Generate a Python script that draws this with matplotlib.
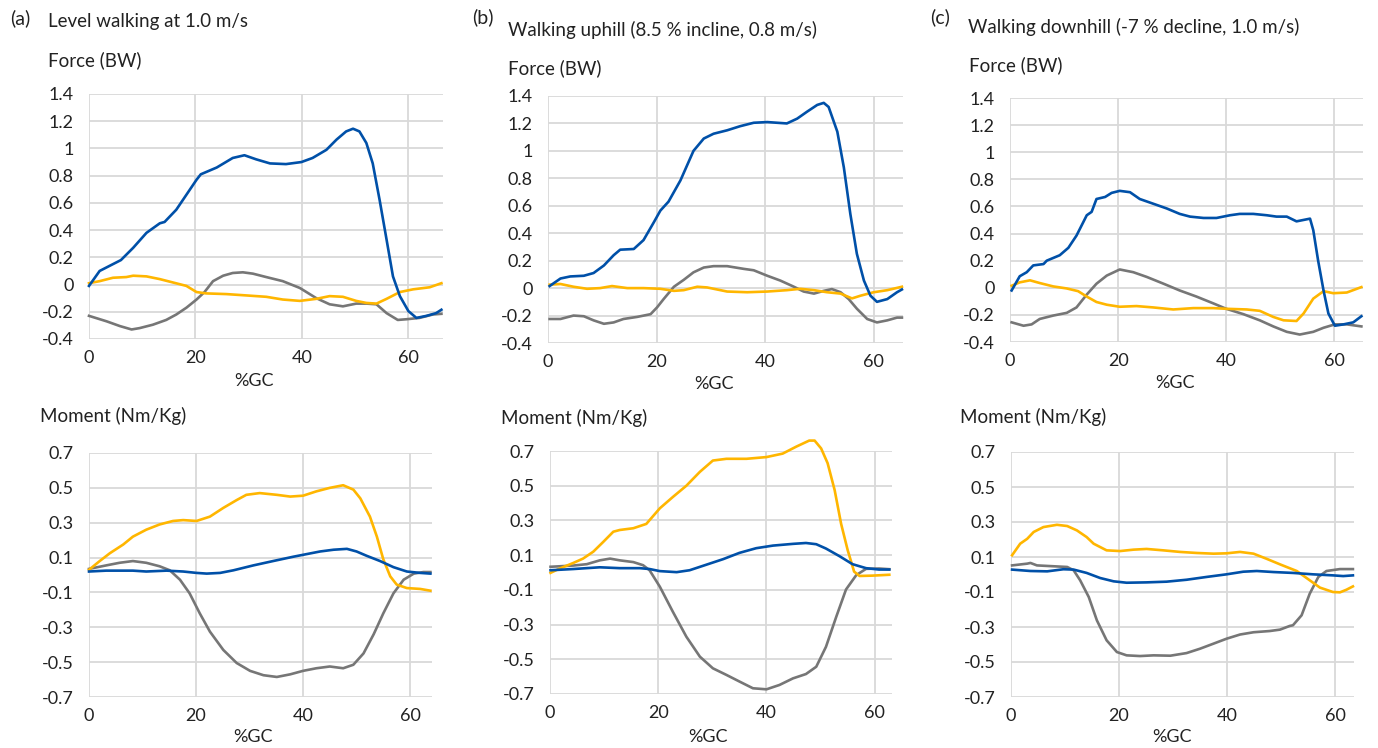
import matplotlib
matplotlib.use('Agg')
import matplotlib.pyplot as plt

plt.rcParams['font.family'] = ['Lato', 'DejaVu Sans']

# ---- data (x = %GC) ----
# (a) level walking, force (BW)
a_f_blue_x = [0, 2, 4.5, 6, 8.3, 10.8, 13.3, 14.2, 16.4, 18.3, 20.2, 21, 24, 27, 29.2, 31.4, 34, 37, 39.9, 42, 44.6, 46.5, 48.3, 49.6, 50.8, 52.1, 53.3, 54.6, 55.9, 57.1, 58.4, 60, 61.5, 63.4, 65.2, 66.2]
a_f_blue_y = [-0.01, 0.1, 0.15, 0.18, 0.27, 0.38, 0.45, 0.46, 0.55, 0.66, 0.77, 0.81, 0.86, 0.93, 0.95, 0.92, 0.89, 0.885, 0.9, 0.93, 0.99, 1.065, 1.125, 1.145, 1.125, 1.04, 0.89, 0.62, 0.33, 0.06, -0.085, -0.195, -0.245, -0.23, -0.21, -0.185]
a_f_orange_x = [0, 2, 4.5, 7, 8.3, 10.8, 13.3, 15.8, 18.3, 20.2, 22, 25.8, 29.6, 33.3, 36.4, 39.6, 42.7, 45.2, 47.7, 50.2, 52.1, 54, 55.9, 58.4, 60.9, 64, 66.2]
a_f_orange_y = [0.01, 0.025, 0.05, 0.055, 0.065, 0.06, 0.04, 0.015, -0.01, -0.055, -0.065, -0.07, -0.08, -0.09, -0.11, -0.12, -0.105, -0.085, -0.09, -0.12, -0.135, -0.14, -0.105, -0.055, -0.035, -0.02, 0.01]
a_f_gray_x = [0, 3.3, 5.8, 8, 9.5, 12, 14.5, 16.4, 18.3, 20.2, 21.7, 23.3, 25.2, 27, 28.9, 30.8, 33.3, 36.4, 39.6, 42.7, 45.2, 47.7, 50.2, 52.1, 54, 55.9, 58, 59.6, 62.1, 64.6, 66.2]
a_f_gray_y = [-0.23, -0.27, -0.305, -0.33, -0.32, -0.295, -0.26, -0.22, -0.17, -0.11, -0.055, 0.025, 0.065, 0.085, 0.09, 0.08, 0.055, 0.025, -0.025, -0.1, -0.145, -0.16, -0.14, -0.14, -0.145, -0.21, -0.26, -0.255, -0.245, -0.22, -0.215]

# (b) uphill, force (BW)
b_f_blue_x = [0.3, 2.3, 4.1, 6.6, 8.4, 10.3, 12.1, 13.3, 15.8, 17.6, 19.5, 20.7, 22.2, 24.4, 26.8, 28.7, 30.5, 33, 35.4, 37.9, 40.4, 42.2, 44, 45.9, 47.7, 49.6, 50.8, 51.7, 53.3, 54.5, 55.7, 56.9, 58.2, 59.4, 60.6, 62.5, 64.3, 65.2]
b_f_blue_y = [0.015, 0.07, 0.085, 0.09, 0.11, 0.165, 0.24, 0.28, 0.285, 0.35, 0.48, 0.565, 0.63, 0.785, 1.0, 1.09, 1.125, 1.15, 1.18, 1.205, 1.21, 1.205, 1.2, 1.235, 1.285, 1.335, 1.35, 1.32, 1.14, 0.88, 0.54, 0.25, 0.055, -0.055, -0.1, -0.08, -0.03, -0.01]
b_f_orange_x = [0.3, 2.3, 4.7, 7.2, 9.6, 11.8, 14.6, 17.6, 20.7, 23.2, 25, 27.5, 29.3, 33, 36.7, 40.4, 44, 46.5, 49, 51.4, 53.9, 56, 57.6, 60, 62.5, 65.2]
b_f_orange_y = [0.025, 0.03, 0.01, -0.005, 0, 0.015, 0, 0, -0.005, -0.02, -0.015, 0.01, 0.005, -0.025, -0.03, -0.025, -0.015, -0.005, -0.015, -0.03, -0.04, -0.075, -0.055, -0.03, -0.015, 0.01]
b_f_gray_x = [0.3, 2.3, 4.7, 6.6, 8.4, 10.3, 12.1, 13.9, 16.4, 18.9, 20.1, 21.3, 23.2, 25, 26.8, 28.7, 30.5, 33, 36.1, 37.9, 40.4, 42.8, 45.3, 47.1, 49, 50.8, 52.3, 53.9, 55.4, 56.9, 58.8, 60.6, 62.5, 64.3, 65.2]
b_f_gray_y = [-0.225, -0.225, -0.2, -0.205, -0.235, -0.26, -0.25, -0.225, -0.21, -0.19, -0.14, -0.08, 0.01, 0.06, 0.115, 0.15, 0.16, 0.16, 0.14, 0.13, 0.09, 0.055, 0.01, -0.025, -0.04, -0.02, -0.007, -0.03, -0.08, -0.15, -0.225, -0.25, -0.235, -0.215, -0.215]

# (c) downhill, force (BW)
c_f_blue_x = [0.3, 1.8, 3.1, 4.3, 6.2, 6.8, 9.2, 10.8, 12.3, 14.2, 15.1, 16, 17.6, 18.8, 20.3, 22.2, 24, 26.5, 29, 31.4, 33.3, 35.8, 38.2, 40.7, 42.5, 45, 47.5, 49.3, 51.2, 53, 55.5, 56.1, 57, 58, 58.9, 60.1, 61.7, 63.5, 65]
c_f_blue_y = [-0.02, 0.085, 0.115, 0.165, 0.175, 0.2, 0.24, 0.295, 0.385, 0.535, 0.56, 0.655, 0.67, 0.7, 0.715, 0.705, 0.655, 0.62, 0.585, 0.545, 0.525, 0.515, 0.515, 0.535, 0.545, 0.545, 0.535, 0.525, 0.525, 0.49, 0.51, 0.425, 0.2, -0.02, -0.19, -0.28, -0.27, -0.255, -0.21]
c_f_orange_x = [0.3, 1.8, 3.7, 5.5, 8, 10.5, 12.6, 14.2, 16, 17.9, 20.3, 23.4, 26.5, 30.2, 33.9, 37.6, 40, 43.8, 46.2, 48.7, 50.6, 53, 54.3, 56.1, 58, 59.8, 62.3, 65]
c_f_orange_y = [0.015, 0.04, 0.055, 0.035, 0.01, -0.005, -0.025, -0.065, -0.105, -0.125, -0.14, -0.135, -0.145, -0.16, -0.15, -0.15, -0.155, -0.16, -0.17, -0.215, -0.24, -0.245, -0.19, -0.08, -0.025, -0.04, -0.035, 0.005]
c_f_gray_x = [0.3, 2.5, 4, 5.5, 8, 10.5, 12.3, 14.2, 16, 17.9, 20.3, 22.8, 25.3, 28.4, 31.4, 34.5, 37.6, 40, 43.2, 46.2, 48.7, 51.2, 53.6, 56.1, 58, 60.1, 62.3, 65]
c_f_gray_y = [-0.255, -0.28, -0.27, -0.23, -0.205, -0.185, -0.145, -0.05, 0.03, 0.09, 0.135, 0.115, 0.08, 0.03, -0.02, -0.065, -0.115, -0.155, -0.195, -0.24, -0.285, -0.325, -0.345, -0.325, -0.295, -0.27, -0.27, -0.285]

# (a) level walking, moment (Nm/Kg)
a_m_blue_x = [0, 3.2, 8.2, 10.7, 14.5, 17.6, 20.1, 22, 24.5, 27, 30.7, 34.4, 38.2, 40.7, 43.2, 45.7, 48.2, 50, 51.9, 54.4, 56.9, 59.4, 61.9, 63.8]
a_m_blue_y = [0.02, 0.025, 0.025, 0.02, 0.025, 0.02, 0.012, 0.008, 0.012, 0.027, 0.055, 0.08, 0.105, 0.12, 0.135, 0.145, 0.15, 0.135, 0.11, 0.08, 0.045, 0.02, 0.012, 0.008]
a_m_orange_x = [0, 2, 3.9, 6.4, 8.2, 10.7, 13.2, 15.7, 17.6, 20.1, 22.6, 25.1, 27.6, 29.4, 31.9, 35.1, 37.6, 40, 42.5, 45, 47.5, 49.4, 50.7, 52.5, 53.8, 55, 56.3, 57.5, 59.4, 61.9, 63.8]
a_m_orange_y = [0.03, 0.08, 0.125, 0.175, 0.22, 0.26, 0.29, 0.31, 0.315, 0.31, 0.335, 0.385, 0.43, 0.46, 0.47, 0.46, 0.45, 0.455, 0.48, 0.5, 0.515, 0.49, 0.44, 0.335, 0.22, 0.09, -0.008, -0.055, -0.075, -0.08, -0.09]
a_m_gray_x = [0, 3.2, 5.7, 8.2, 10.7, 13.2, 15.1, 17, 18.8, 20.7, 22.6, 25.1, 27.6, 30.1, 32.6, 35.1, 37.6, 40, 42.5, 45, 47.5, 49.4, 51.3, 53.2, 55, 56.9, 58.8, 60.7, 62.5, 63.8]
a_m_gray_y = [0.035, 0.055, 0.07, 0.08, 0.07, 0.05, 0.027, -0.027, -0.105, -0.22, -0.325, -0.43, -0.505, -0.55, -0.575, -0.585, -0.57, -0.55, -0.535, -0.525, -0.535, -0.515, -0.45, -0.34, -0.22, -0.105, -0.027, 0.008, 0.017, 0.017]

# (b) uphill, moment (Nm/Kg)
b_m_blue_x = [0.1, 4.3, 9.2, 12.9, 16.6, 18.4, 20.3, 23.4, 25.8, 28.9, 32, 35, 38.1, 41.2, 44.9, 47.3, 49.2, 51, 53.5, 55.9, 58.4, 60.8, 62.7]
b_m_blue_y = [0.013, 0.02, 0.03, 0.025, 0.025, 0.02, 0.008, 0.002, 0.013, 0.045, 0.077, 0.113, 0.14, 0.155, 0.165, 0.17, 0.163, 0.138, 0.094, 0.048, 0.025, 0.017, 0.017]
b_m_orange_x = [0.1, 1.8, 4.3, 6.1, 8, 9.8, 11.7, 12.9, 15.4, 17.8, 20.3, 22.7, 25.2, 27.7, 30.1, 32.6, 36.3, 40, 43, 45.5, 47.9, 48.9, 50.1, 51.3, 52.6, 53.8, 55, 56.2, 57.2, 59.6, 62.7]
b_m_orange_y = [-0.002, 0.023, 0.055, 0.08, 0.12, 0.175, 0.235, 0.245, 0.255, 0.28, 0.37, 0.435, 0.5, 0.58, 0.645, 0.655, 0.655, 0.665, 0.685, 0.725, 0.76, 0.76, 0.715, 0.63, 0.475, 0.28, 0.13, 0.005, -0.02, -0.018, -0.013]
b_m_gray_x = [0.1, 4.3, 6.8, 9.2, 11.1, 12.9, 15.4, 17.2, 18.4, 20.3, 22.7, 25.2, 27.7, 30.1, 32.6, 35, 37.5, 40, 42.4, 44.9, 47.3, 49.2, 51, 52.9, 54.7, 56.6, 58.4, 60.8, 62.7]
b_m_gray_y = [0.033, 0.04, 0.048, 0.07, 0.08, 0.07, 0.06, 0.042, 0.013, -0.082, -0.226, -0.37, -0.485, -0.552, -0.59, -0.628, -0.667, -0.673, -0.648, -0.61, -0.585, -0.543, -0.428, -0.255, -0.098, -0.015, 0.021, 0.023, 0.019]

# (c) downhill, moment (Nm/Kg)
c_m_blue_x = [0.2, 3.6, 6.7, 9.7, 11.6, 14, 16.5, 19, 21.4, 25.1, 28.8, 32.5, 36.2, 39.9, 43, 45.5, 48.6, 52.2, 55.9, 59.6, 61.5, 63.3]
c_m_blue_y = [0.028, 0.02, 0.018, 0.03, 0.028, 0.009, -0.02, -0.039, -0.047, -0.045, -0.041, -0.03, -0.014, 0.001, 0.016, 0.02, 0.014, 0.009, 0.001, -0.005, -0.009, -0.005]
c_m_orange_x = [0.2, 1.7, 3, 4.2, 6, 8.5, 10.4, 12.2, 14, 15.3, 17.7, 20.2, 22.7, 25.1, 28.2, 31.3, 34.4, 37.5, 39.9, 42.4, 44.9, 47.3, 49.8, 52.9, 55.3, 57.2, 59.6, 60.9, 62.1, 63.3]
c_m_orange_y = [0.11, 0.176, 0.204, 0.243, 0.271, 0.284, 0.277, 0.252, 0.214, 0.176, 0.138, 0.134, 0.142, 0.146, 0.138, 0.129, 0.123, 0.119, 0.121, 0.129, 0.119, 0.09, 0.058, 0.02, -0.033, -0.075, -0.1, -0.102, -0.087, -0.068]
c_m_gray_x = [0.2, 3, 3.6, 4.8, 7.9, 10.4, 11.6, 12.8, 14.4, 15.9, 17.7, 19.6, 21.4, 23.9, 26.4, 29.5, 32.5, 35, 37.5, 39.9, 42.4, 44.9, 47.9, 49.8, 51.6, 52.2, 53.8, 55.3, 56.9, 58.4, 60.9, 63.3]
c_m_gray_y = [0.052, 0.062, 0.066, 0.052, 0.047, 0.043, 0.024, -0.033, -0.129, -0.262, -0.376, -0.443, -0.462, -0.466, -0.462, -0.464, -0.449, -0.424, -0.395, -0.367, -0.343, -0.33, -0.323, -0.315, -0.294, -0.29, -0.233, -0.11, -0.014, 0.02, 0.031, 0.031]

panel_letters = ['(a)', '(b)', '(c)']
panel_titles = ['Level walking at 1.0 m/s',
                'Walking uphill (8.5 % incline, 0.8 m/s)',
                'Walking downhill (-7 % decline, 1.0 m/s)']
force_ticks = [-0.4, -0.2, 0, 0.2, 0.4, 0.6, 0.8, 1, 1.2, 1.4]
moment_ticks = [-0.7, -0.5, -0.3, -0.1, 0.1, 0.3, 0.5, 0.7]
x_ticks = [0, 20, 40, 60]

BLUE = '#0050a8'
ORANGE = '#ffb600'
GRAY = '#767676'
GRID = '#d9d9d9'

W, H = 1378, 748
fig = plt.figure(figsize=(W / 100, H / 100), dpi=100)


def box(left, top, right, bottom):
    return [left / W, 1 - bottom / H, (right - left) / W, (bottom - top) / H]


def fmt(v):
    s = ('%.1f' % v).rstrip('0').rstrip('.')
    return '0' if s in ('0', '-0') else s


def style(ax, yticks, xmax):
    ax.set_xlim(0, xmax)
    ax.set_ylim(yticks[0], yticks[-1])
    ax.set_yticks(yticks)
    ax.set_yticklabels([fmt(v) for v in yticks])
    ax.set_xticks(x_ticks)
    for s in ax.spines.values():
        s.set_visible(False)
    ax.grid(True, color=GRID, linewidth=1.3)
    ax.set_axisbelow(True)
    ax.tick_params(length=0, labelsize=13, colors='#222222')
    ax.tick_params(axis='y', pad=11)
    ax.tick_params(axis='x', pad=8)


force_sets = [
    (a_f_blue_x, a_f_blue_y, a_f_orange_x, a_f_orange_y, a_f_gray_x, a_f_gray_y),
    (b_f_blue_x, b_f_blue_y, b_f_orange_x, b_f_orange_y, b_f_gray_x, b_f_gray_y),
    (c_f_blue_x, c_f_blue_y, c_f_orange_x, c_f_orange_y, c_f_gray_x, c_f_gray_y),
]
moment_sets = [
    (a_m_blue_x, a_m_blue_y, a_m_orange_x, a_m_orange_y, a_m_gray_x, a_m_gray_y),
    (b_m_blue_x, b_m_blue_y, b_m_orange_x, b_m_orange_y, b_m_gray_x, b_m_gray_y),
    (c_m_blue_x, c_m_blue_y, c_m_orange_x, c_m_orange_y, c_m_gray_x, c_m_gray_y),
]

force_boxes = [(89, 94, 443, 339), (548, 96, 903, 343), (1010, 98, 1363, 342)]
force_xmax = [66.5, 65.4, 65.3]
moment_boxes = [(89, 453, 432, 697), (550, 451, 892, 694), (1011, 452, 1354, 697)]
moment_xmax = [64.1, 63.2, 63.5]

letter_pos = [(10, 18), (472, 17), (930, 17)]
title_pos = [(48, 22), (508, 30), (968, 27)]
force_lab_pos = [(48, 60), (508, 68), (969, 65)]
moment_lab_pos = [(40, 416), (501, 418), (960, 417)]
gc_force_pos = [(254, 381), (714, 384), (1175, 383)]
gc_moment_pos = [(253, 737), (708, 737), (1172, 737)]


def ftext(x, y, s, **kw):
    fig.text(x / W, 1 - y / H, s, va='center', color='#222222', **kw)


def draw(ax, series):
    bx, by, ox, oy, gx, gy = series
    ax.plot(gx, gy, color=GRAY, lw=1.9, clip_on=False)
    ax.plot(ox, oy, color=ORANGE, lw=1.9, clip_on=False)
    ax.plot(bx, by, color=BLUE, lw=1.9, clip_on=False)


for i in range(3):
    ax = fig.add_axes(box(*force_boxes[i]))
    draw(ax, force_sets[i])
    style(ax, force_ticks, force_xmax[i])

    ax = fig.add_axes(box(*moment_boxes[i]))
    draw(ax, moment_sets[i])
    style(ax, moment_ticks, moment_xmax[i])

    ftext(*letter_pos[i], panel_letters[i], fontsize=14, ha='left')
    ftext(*title_pos[i], panel_titles[i], fontsize=13.5, ha='left')
    ftext(*force_lab_pos[i], 'Force (BW)', fontsize=13.5, ha='left')
    ftext(*moment_lab_pos[i], 'Moment (Nm/Kg)', fontsize=13.5, ha='left')
    ftext(*gc_force_pos[i], '%GC', fontsize=13, ha='center')
    ftext(*gc_moment_pos[i], '%GC', fontsize=13, ha='center')

fig.savefig('out.png', dpi=100, facecolor='white')
